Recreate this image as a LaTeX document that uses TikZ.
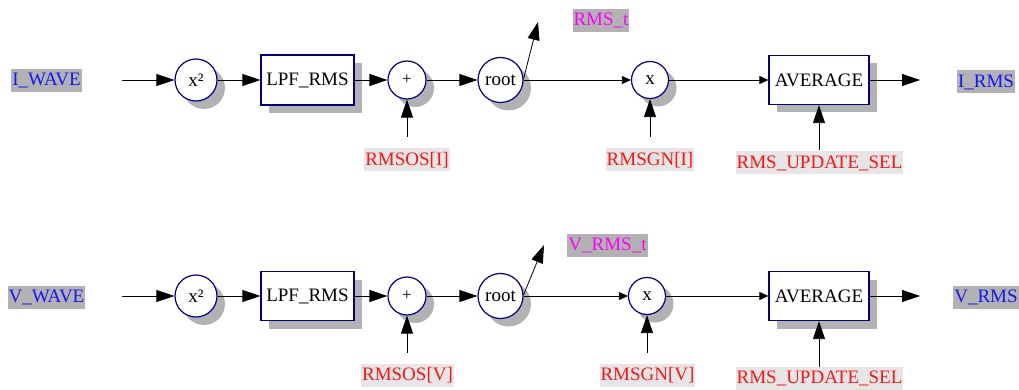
\documentclass[tikz,border=0pt]{standalone}
\usepackage{fontspec}
\setmainfont{Liberation Serif}
\usetikzlibrary{arrows.meta,shadows}
\definecolor{navy}{RGB}{0,0,140}
\definecolor{shadowgray}{RGB}{178,178,178}
\definecolor{labelgray}{RGB}{178,178,178}
\definecolor{lightbg}{RGB}{230,230,230}
\definecolor{sigblue}{RGB}{20,20,255}
\definecolor{sigred}{RGB}{255,20,20}
\definecolor{sigmag}{RGB}{255,0,255}
\tikzset{
  op/.style={circle, draw=navy, line width=1.2pt, fill=white, inner sep=0pt, minimum size=#1,
    general shadow={fill=shadowgray, shadow xshift=8pt, shadow yshift=-8pt}},
  blk/.style={rectangle, draw=navy, line width=1.2pt, fill=white, minimum width=#1, minimum height=49pt, inner sep=0pt,
    general shadow={fill=shadowgray, shadow xshift=8pt, shadow yshift=-8pt}},
  sig/.style={fill=labelgray, inner xsep=1pt, inner ysep=0pt, minimum height=23pt},
  sigr/.style={fill=lightbg, text=sigred, inner xsep=1pt, inner ysep=0pt, minimum height=23pt},
  big/.style={-{Triangle[length=18pt,width=12pt]}, line width=0.8pt},
  small/.style={-{Triangle[length=9pt,width=8pt]}, line width=0.8pt},
  plusfont/.style={font=\fontsize{17}{19}\selectfont}
}
\begin{document}
\begin{tikzpicture}[x=1pt, y=-1pt, font=\fontsize{19}{21}\selectfont]
\useasboundingbox (0,0) rectangle (1019,390);
% ---------- top row ----------
\node[sig, text=sigblue] (iw) at (46.5,80.5) {I\_WAVE};
\coordinate (iin) at (122,80);
\node[op=42] (sq1) at (196,80) {x²};
\node[blk=93, minimum height=50pt] (lpf1) at (307.5,80) {LPF\_RMS};
\node[op=38, plusfont] (add1) at (407,80) {+};
\node[op=45] (root1) at (500.5,80) {root};
\node[op=37] (mul1) at (650,80) {x};
\node[blk=100] (avg1) at (819,80) {AVERAGE};
\coordinate (out1) at (920,80);
\node[sig, text=sigblue] (irms) at (986,82) {I\_RMS};
\node[sig, text=sigmag] (rmst) at (601,20.5) {RMS\_t};
\coordinate (rmstip) at (538,22);
\node[sigr] (os1) at (407,160) {RMSOS[I]};
\coordinate (os1s) at (407,137);
\node[sigr] (gn1) at (650,160) {RMSGN[I]};
\coordinate (gn1s) at (650,137);
\node[sigr] (us1) at (819.5,163) {RMS\_UPDATE\_SEL};
\coordinate (us1s) at (819,150);
\draw[big] (iin) -- (sq1);
\draw[big] (sq1) -- (lpf1);
\draw[big] (lpf1) -- (add1);
\draw[big] (add1) -- (root1);
\draw[small] (root1) -- (mul1);
\draw[small] (mul1) -- (avg1);
\draw[big] (avg1) -- (out1);
\draw[big] (os1s) -- (add1);
\draw[big] (gn1s) -- (mul1);
\draw[big] (us1s) -- (avg1);
\draw[big] (root1.3) -- (rmstip);
% ---------- bottom row ----------
\node[sig, text=sigblue] (vw) at (46.5,297) {V\_WAVE};
\coordinate (vin) at (122,296);
\node[op=42] (sq2) at (196,296) {x²};
\node[blk=93] (lpf2) at (307.5,296) {LPF\_RMS};
\node[op=38, plusfont] (add2) at (407,296) {+};
\node[op=45] (root2) at (500.5,296) {root};
\node[op=37] (mul2) at (647,296) {x};
\node[blk=100] (avg2) at (819,296) {AVERAGE};
\coordinate (out2) at (920,296);
\node[sig, text=sigblue] (vrms) at (986,297.5) {V\_RMS};
\node[sig, text=sigmag] (vrmst) at (607.5,245.5) {V\_RMS\_t};
\coordinate (vrmstip) at (544,245);
\node[sigr] (os2) at (407.5,375.5) {RMSOS[V]};
\coordinate (os2s) at (407,353);
\node[sigr] (gn2) at (647.5,375.5) {RMSGN[V]};
\coordinate (gn2s) at (647,353);
\node[sigr] (us2) at (819.5,378) {RMS\_UPDATE\_SEL};
\coordinate (us2s) at (819,367);
\draw[big] (vin) -- (sq2);
\draw[big] (sq2) -- (lpf2);
\draw[big] (lpf2) -- (add2);
\draw[big] (add2) -- (root2);
\draw[small] (root2) -- (mul2);
\draw[small] (mul2) -- (avg2);
\draw[big] (avg2) -- (out2);
\draw[big] (os2s) -- (add2);
\draw[big] (gn2s) -- (mul2);
\draw[big] (us2s) -- (avg2);
\draw[big] (root2.3) -- (vrmstip);
\end{tikzpicture}
\end{document}
